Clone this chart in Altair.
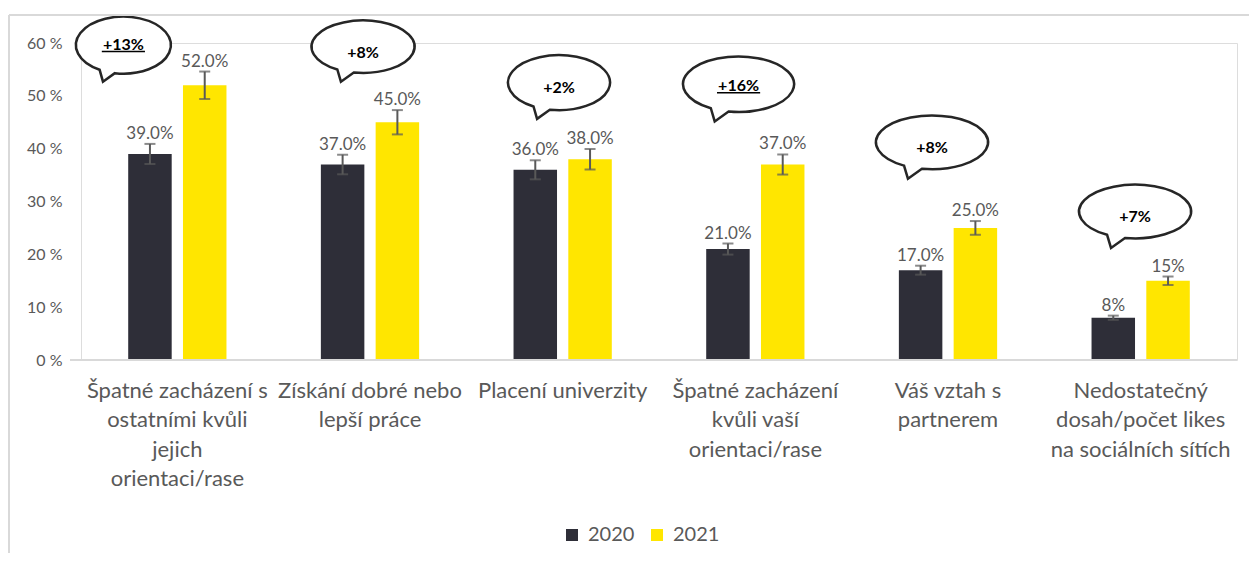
import math
import altair as alt
import pandas as pd

# ---------------- data ----------------
categories = [
    "Špatné zacházení s\nostatními kvůli\njejich\norientaci/rase",
    "Získání dobré nebo\nlepší práce",
    "Placení univerzity",
    "Špatné zacházení\nkvůli vaší\norientaci/rase",
    "Váš vztah s\npartnerem",
    "Nedostatečný\ndosah/počet likes\nna sociálních sítích",
]
years = ["2020", "2021"]
values_2020 = [39, 37, 36, 21, 17, 8]
values_2021 = [52, 45, 38, 37, 25, 15]
err_2020 = [1.9, 1.85, 1.8, 1.05, 0.85, 0.4]
err_2021 = [2.6, 2.3, 1.95, 1.9, 1.3, 0.8]
labels_2020 = ["39.0%", "37.0%", "36.0%", "21.0%", "17.0%", "8%"]
labels_2021 = ["52.0%", "45.0%", "38.0%", "37.0%", "25.0%", "15%"]
y_ticks = [0, 10, 20, 30, 40, 50, 60]

# speech-bubble annotations (x in category units, y in %)
bubble_text = ["+13%", "+8%", "+2%", "+16%", "+8%", "+7%"]
bubble_underlined = [True, False, False, True, False, False]
bubble_x = [0.22, 1.464, 2.481, 3.413, 4.417, 5.471]
bubble_y = [59.6, 59.3, 52.5, 52.2, 41.2, 28.1]
bubble_text_y = [59.6, 58.2, 51.4, 51.8, 40.1, 27.0]

# bubble styling
bubble_halfwidth_px = [47.5, 51.5, 51.0, 55.5, 56.0, 56.0]
bubble_aspect = [0.6, 0.51, 0.54, 0.5, 0.48, 0.48]

DARK = "#2e2e38"
YELLOW = "#ffe600"
GRAY = "#595959"
FONT = "Lato"

W, H = 1156, 317


def bubble_path(ry):
    t0 = math.acos(-0.18)
    t1 = -2 * math.pi + math.acos(-0.5)
    n = 4
    dt = (t1 - t0) / n
    k = 4.0 / 3.0 * math.tan(dt / 4.0)

    def f(v):
        return f"{v:.4f}"

    parts = [f"M {f(math.cos(t0))} {f(ry * math.sin(t0))}"]
    for i in range(n):
        a = t0 + i * dt
        b = a + dt
        p1 = (math.cos(a) - k * math.sin(a), ry * (math.sin(a) + k * math.cos(a)))
        p2 = (math.cos(b) + k * math.sin(b), ry * (math.sin(b) - k * math.cos(b)))
        p3 = (math.cos(b), ry * math.sin(b))
        parts.append(
            f"C {f(p1[0])} {f(p1[1])} {f(p2[0])} {f(p2[1])} {f(p3[0])} {f(p3[1])}"
        )
    parts.append(f"L -0.43 {f(ry + 0.17)} Z")
    return " ".join(parts)


rows = []
for i, c in enumerate(categories):
    rows.append(dict(cat=c, year="2020", value=values_2020[i], err=err_2020[i], label=labels_2020[i]))
    rows.append(dict(cat=c, year="2021", value=values_2021[i], err=err_2021[i], label=labels_2021[i]))
df = pd.DataFrame(rows)
df["lo"] = df["value"] - df["err"]
df["hi"] = df["value"] + df["err"]

bub = pd.DataFrame(dict(
    bx=bubble_x, by=bubble_y, ty=bubble_text_y, txt=bubble_text,
    und=bubble_underlined,
    size=[(2 * r) ** 2 for r in bubble_halfwidth_px],
    shape=[bubble_path(a) for a in bubble_aspect],
))
und = bub[bub["und"]].copy()
und["x1"] = und["bx"] - 0.112
und["x2"] = und["bx"] + 0.112
und["uy"] = und["ty"] - 1.2

base = pd.DataFrame(dict(x1=[-0.057], x2=[6.0], y=[0]))
one = pd.DataFrame(dict(a=[0]))

xband = alt.X(
    "cat:N", sort=categories,
    scale=alt.Scale(paddingInner=0.49, paddingOuter=0.245),
    axis=alt.Axis(
        title=None, domain=False, ticks=False, labelAngle=0, labelLimit=0,
        labelFontSize=22, labelColor=GRAY, labelLineHeight=29.5, labelPadding=20,
        labelExpr="split(datum.label, '\\n')", labelFont=FONT,
    ),
)
xoff = alt.XOffset("year:N", sort=years, scale=alt.Scale(paddingInner=0.206, paddingOuter=0))
yscale = alt.Scale(domain=[0, 60], nice=False, zero=True)
yaxis = alt.Axis(
    title=None, domain=False, ticks=False, grid=False,
    values=y_ticks, labelExpr="datum.value + ' %'",
    labelFontSize=16, labelColor=GRAY, labelPadding=19, labelFont=FONT,
)


def Y(field):
    return alt.Y(field, scale=yscale, axis=yaxis, title=None)


bars = alt.Chart(df).mark_bar().encode(
    x=xband,
    xOffset=xoff,
    y=Y("value:Q"),
    color=alt.Color("year:N", sort=years,
                    scale=alt.Scale(domain=years, range=[DARK, YELLOW]),
                    legend=alt.Legend(
                        title=None, orient="none", legendX=481, legendY=482,
                        direction="horizontal", symbolType="square", symbolSize=144,
                        symbolStrokeWidth=0, labelFontSize=20, labelColor=GRAY,
                        labelFont=FONT, labelOffset=6, columnPadding=12, padding=0,
                    )),
)

err_rule = alt.Chart(df).mark_rule(color=GRAY, strokeWidth=2).encode(
    x=alt.X("cat:N", sort=categories), xOffset=xoff,
    y=Y("lo:Q"), y2="hi:Q",
)
cap_lo = alt.Chart(df).mark_tick(color=GRAY, thickness=2, size=11, orient="horizontal").encode(
    x=alt.X("cat:N", sort=categories), xOffset=xoff,
    y=Y("lo:Q"),
)
cap_hi = alt.Chart(df).mark_tick(color=GRAY, thickness=2, size=11, orient="horizontal").encode(
    x=alt.X("cat:N", sort=categories), xOffset=xoff,
    y=Y("hi:Q"),
)
vlabels = alt.Chart(df).mark_text(
    fontSize=17, color=GRAY, baseline="alphabetic", dy=-5, font=FONT
).encode(
    x=alt.X("cat:N", sort=categories), xOffset=xoff,
    y=Y("hi:Q"),
    text="label:N",
)

band_layer = alt.layer(bars, err_rule, cap_lo, cap_hi, vlabels)

xq = alt.Scale(domain=[0, 6], nice=False, zero=False)

baseline = alt.Chart(base).mark_rule(color="#d9d9d9", strokeWidth=2).encode(
    x=alt.X("x1:Q", scale=xq, axis=None), x2="x2:Q",
    y=Y("y:Q"),
)
bubbles = alt.Chart(bub).mark_point(
    filled=True, fill="white", stroke="#262626", strokeWidth=2.5, opacity=1,
    fillOpacity=1, strokeOpacity=1,
).encode(
    x=alt.X("bx:Q", scale=xq, axis=None),
    y=Y("by:Q"),
    size=alt.Size("size:Q", scale=None),
    shape=alt.Shape("shape:N", scale=None),
)
btext = alt.Chart(bub).mark_text(
    fontSize=16, fontWeight="bold", color="#000000", font=FONT
).encode(
    x=alt.X("bx:Q", scale=xq, axis=None),
    y=Y("ty:Q"),
    text="txt:N",
)
uline = alt.Chart(und).mark_rule(color="#000000", strokeWidth=1.5).encode(
    x=alt.X("x1:Q", scale=xq, axis=None), x2="x2:Q",
    y=Y("uy:Q"),
)
quant_layer = alt.layer(baseline, bubbles, btext, uline)

frame_top = alt.Chart(one).mark_rule(color="#d9d9d9", strokeWidth=2).encode(
    x=alt.value(-72), x2=alt.value(1200), y=alt.value(-28)
)
frame_left = alt.Chart(one).mark_rule(color="#d9d9d9", strokeWidth=2).encode(
    x=alt.value(-72), y=alt.value(-28), y2=alt.value(520)
)

chart = alt.layer(band_layer, quant_layer, frame_top, frame_left).resolve_scale(
    x="independent"
).properties(
    width=W, height=H,
    autosize=alt.AutoSizeParams(type="none"),
    padding={"left": 73, "top": 35, "right": 12, "bottom": 193},
).configure_view(stroke=None).configure(font=FONT, background="white")

chart.save("out.html", embed_options={"renderer": "svg", "actions": False})
